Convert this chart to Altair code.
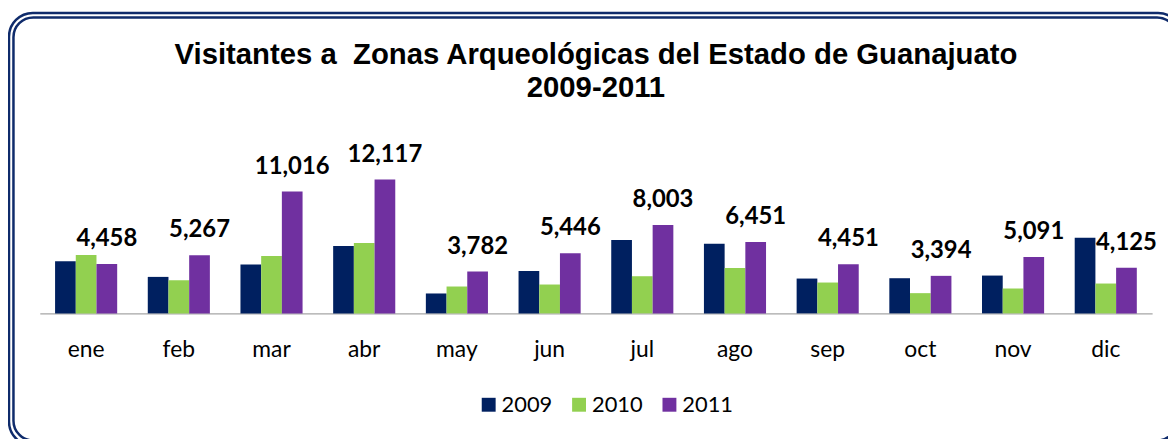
import altair as alt
import pandas as pd

months = ["ene", "feb", "mar", "abr", "may", "jun", "jul", "ago", "sep", "oct", "nov", "dic"]
years = ["2009", "2010", "2011"]
v2009 = [4710, 3300, 4410, 6090, 1800, 3840, 6630, 6300, 3150, 3180, 3420, 6840]
v2010 = [5280, 3000, 5190, 6360, 2430, 2610, 3360, 4110, 2790, 1830, 2250, 2700]
v2011 = [4458, 5267, 11016, 12117, 3782, 5446, 8003, 6451, 4451, 3394, 5091, 4125]
colors = ["#002060", "#92D050", "#7030A0"]
title_lines = ["Visitantes a\u00a0 Zonas Arqueológicas del Estado de Guanajuato", "2009-2011"]

rows = []
for yr, vals in zip(years, [v2009, v2010, v2011]):
    for m, v in zip(months, vals):
        rows.append({"mes": m, "anio": yr, "valor": v,
                     "etiqueta": f"{v:,}" if yr == "2011" else ""})
df = pd.DataFrame(rows)

x_enc = alt.X("mes:N", sort=months, title=None,
              scale=alt.Scale(paddingInner=0.33, paddingOuter=0.165),
              axis=alt.Axis(labelAngle=0, labelFont="Lato", labelFontSize=23,
                            labelColor="#000000", labelPadding=25, ticks=False,
                            tickSize=0, domainColor="#a6a6a6", domainWidth=1.5,
                            grid=False))
xoff = alt.XOffset("anio:N", sort=years, scale=alt.Scale(paddingInner=0, paddingOuter=0))
y_enc = alt.Y("valor:Q", axis=None, scale=alt.Scale(domain=[0, 15000], nice=False))

base = alt.Chart(df)

bars = base.mark_bar().encode(
    x=x_enc,
    xOffset=xoff,
    y=y_enc,
    color=alt.Color("anio:N", sort=years,
                    scale=alt.Scale(domain=years, range=colors),
                    legend=alt.Legend(orient="none", legendX=441, legendY=248,
                                      direction="horizontal", title=None,
                                      symbolType="square", symbolSize=196,
                                      symbolStrokeWidth=0, labelFont="Lato",
                                      labelFontSize=22, labelColor="#000000",
                                      columnPadding=15, labelOffset=2)),
)

labels = base.mark_text(font="Lato", fontWeight="bold", fontSize=24, color="#000000",
                        dy=-18, baseline="alphabetic", align="center").encode(
    x=x_enc,
    xOffset=xoff,
    y=y_enc,
    text="etiqueta:N",
)

frame_df = pd.DataFrame({"k": [0]})
outer = alt.Chart(frame_df).mark_rect(fill=None, fillOpacity=0, stroke="#0f2b6b",
                                      strokeWidth=2.5, cornerRadius=24).encode(
    x=alt.value(-31), x2=alt.value(1150), y=alt.value(-135.5), y2=alt.value(300))
inner = alt.Chart(frame_df).mark_rect(fill=None, fillOpacity=0, stroke="#0f2b6b",
                                      strokeWidth=2.5, cornerRadius=20).encode(
    x=alt.value(-26.5), x2=alt.value(1145), y=alt.value(-131), y2=alt.value(295))

chart = alt.layer(outer, inner, bars, labels).properties(
    width=1120,
    height=167,
    title=alt.TitleParams(text=title_lines, font="Liberation Sans", fontSize=29.5,
                          fontWeight="bold", color="#000000", anchor="middle",
                          frame="group", offset=0, dy=92, lineHeight=33),
    autosize=alt.AutoSizeParams(type="none"),
    padding={"left": 32, "top": 139, "right": 16, "bottom": 125},
).configure(background="white").configure_view(stroke=None, strokeWidth=0)

chart.save("out.html", embed_options={"renderer": "svg", "actions": False})
